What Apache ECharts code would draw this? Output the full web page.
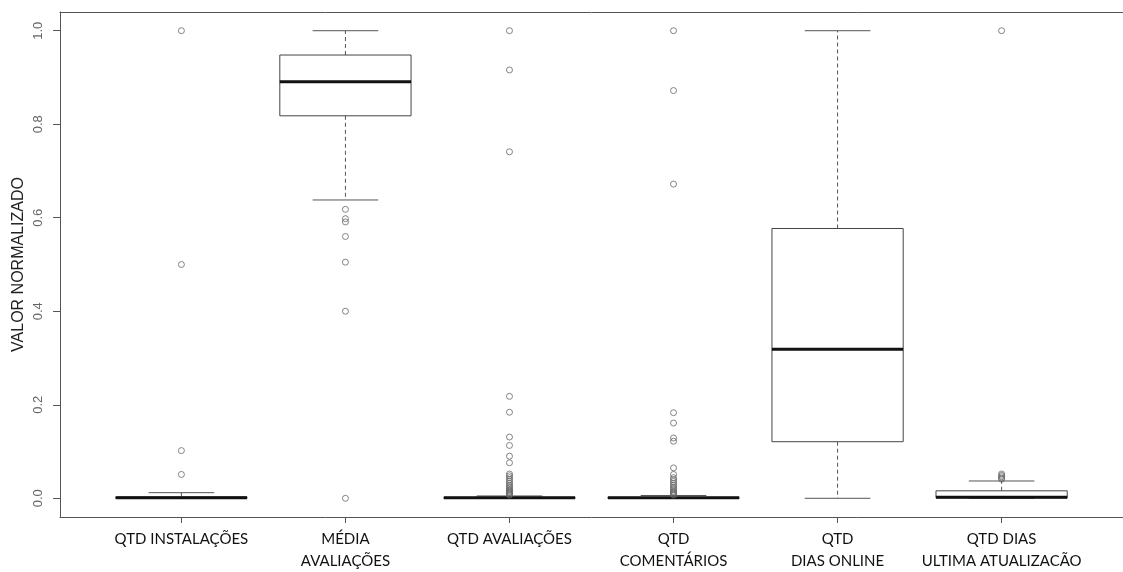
<!DOCTYPE html>
<html>
<head>
<meta charset="utf-8">
<script src="https://cdn.jsdelivr.net/npm/echarts@6/dist/echarts.min.js"></script>
<style>html,body{margin:0;padding:0;background:#fff;}#c{width:1123px;height:572px;}</style>
</head>
<body>
<div id="c"></div>
<script>
// Categories (x positions 1..6)
var categories = ['QTD INSTALAÇÕES', 'MÉDIA\nAVALIAÇÕES', 'QTD AVALIAÇÕES', 'QTD\nCOMENTÁRIOS', 'QTD\nDIAS ONLINE', 'QTD DIAS\nULTIMA ATUALIZACÃO'];
// Box statistics: [low whisker, Q1, median, Q3, high whisker]
var boxInstalacoes = [0, 0, 0.001, 0.003, 0.012];
var boxMedia       = [0.638, 0.818, 0.891, 0.948, 1.0];
var boxAvaliacoes  = [0, 0, 0.001, 0.002, 0.005];
var boxComentarios = [0, 0, 0.001, 0.002, 0.006];
var boxDiasOnline  = [0, 0.121, 0.319, 0.577, 1.0];
var boxUltima      = [0, 0.001, 0.002, 0.016, 0.037];
// Outliers
var outInstalacoes = [1.0, 0.5, 0.102, 0.051];
var outMedia       = [0.618, 0.598, 0.591, 0.560, 0.505, 0.40, 0.0];
var outAvaliacoes  = [1.0, 0.916, 0.741, 0.218, 0.184, 0.131, 0.113, 0.090, 0.076, 0.052, 0.048, 0.044, 0.040, 0.036, 0.032, 0.028, 0.025, 0.022, 0.019, 0.017, 0.015, 0.013, 0.011, 0.009, 0.007];
var outComentarios = [1.0, 0.872, 0.672, 0.183, 0.161, 0.129, 0.122, 0.065, 0.051, 0.044, 0.040, 0.036, 0.032, 0.028, 0.024, 0.021, 0.018, 0.015, 0.013, 0.011, 0.009, 0.007];
var outDiasOnline  = [];
var outUltima      = [1.0, 0.052, 0.049, 0.046, 0.043, 0.041];
// Tick labels
var yTicks = [0, 0.2, 0.4, 0.6, 0.8, 1.0];
var xTicks = [1, 2, 3, 4, 5, 6];
var yTitle = 'VALOR NORMALIZADO';

var boxes = [boxInstalacoes, boxMedia, boxAvaliacoes, boxComentarios, boxDiasOnline, boxUltima];
var outs = [outInstalacoes, outMedia, outAvaliacoes, outComentarios, outDiasOnline, outUltima];

var boxData = boxes.map(function (b, i) { return [i + 1].concat(b); });
var outData = [];
outs.forEach(function (arr, i) { arr.forEach(function (v) { outData.push([i + 1, v]); }); });

var BOXW = 0.4, CAPW = 0.2;

function renderBox(params, api) {
  var x = api.value(0), lo = api.value(1), q1 = api.value(2), md = api.value(3), q3 = api.value(4), hi = api.value(5);
  var p = function (a, b) { return api.coord([a, b]); };
  var tl = p(x - BOXW, q3), br = p(x + BOXW, q1);
  var dash = { stroke: '#555', lineWidth: 1, lineDash: [4, 3] };
  var solid = { stroke: '#555', lineWidth: 1 };
  var c = [];
  c.push({ type: 'line', shape: { x1: p(x, q3)[0], y1: p(x, q3)[1], x2: p(x, hi)[0], y2: p(x, hi)[1] }, style: dash });
  c.push({ type: 'line', shape: { x1: p(x, q1)[0], y1: p(x, q1)[1], x2: p(x, lo)[0], y2: p(x, lo)[1] }, style: dash });
  c.push({ type: 'line', shape: { x1: p(x - CAPW, hi)[0], y1: p(x - CAPW, hi)[1], x2: p(x + CAPW, hi)[0], y2: p(x + CAPW, hi)[1] }, style: solid });
  c.push({ type: 'line', shape: { x1: p(x - CAPW, lo)[0], y1: p(x - CAPW, lo)[1], x2: p(x + CAPW, lo)[0], y2: p(x + CAPW, lo)[1] }, style: solid });
  c.push({ type: 'rect', shape: { x: tl[0], y: tl[1], width: br[0] - tl[0], height: br[1] - tl[1] }, style: { fill: '#fff', stroke: '#444', lineWidth: 1 } });
  c.push({ type: 'line', shape: { x1: p(x - BOXW, md)[0], y1: p(x - BOXW, md)[1], x2: p(x + BOXW, md)[0], y2: p(x + BOXW, md)[1] }, style: { stroke: '#111', lineWidth: 3 } });
  return { type: 'group', children: c };
}

var chart = echarts.init(document.getElementById('c'), null, { renderer: 'canvas' });
chart.setOption({
  animation: false,
  backgroundColor: '#fff',
  grid: { left: 60, top: 12, width: 1072, height: 506, containLabel: false },
  xAxis: [{
    type: 'value', min: 0.26, max: 6.74, position: 'bottom',
    axisLine: { show: true, onZero: false, lineStyle: { color: '#555', width: 1 } },
    axisTick: { show: true, length: 6, customValues: xTicks, lineStyle: { color: '#555' } },
    axisLabel: { show: true, customValues: xTicks, margin: 11, fontFamily: 'Lato', fontSize: 15, lineHeight: 22, color: '#111',
      formatter: function (v) { return categories[Math.round(v) - 1] || ''; } },
    splitLine: { show: false }
  }, {
    type: 'value', min: 0.26, max: 6.74, position: 'top',
    axisLine: { show: true, onZero: false, lineStyle: { color: '#555', width: 1 } },
    axisTick: { show: false }, axisLabel: { show: false }, splitLine: { show: false }
  }],
  yAxis: {
    type: 'value', min: -0.04, max: 1.04,
    name: yTitle, nameLocation: 'middle', nameGap: 33, nameRotate: 90, nameMoveOverlap: false,
    nameTextStyle: { fontFamily: 'Liberation Sans', fontSize: 16, color: '#222' },
    axisLine: { show: true, onZero: false, lineStyle: { color: '#555', width: 1 } },
    axisTick: { show: true, length: 7, customValues: yTicks, lineStyle: { color: '#555' } },
    axisLabel: { show: true, customValues: yTicks, rotate: 90, margin: 15, fontFamily: 'Liberation Sans', fontSize: 13, color: '#666',
      formatter: function (v) { return v.toFixed(1); } },
    splitLine: { show: false }
  },
  series: [{
    type: 'custom', renderItem: renderBox, data: boxData, encode: { x: 0, y: [1, 2, 3, 4, 5] }, z: 2
  }, {
    type: 'scatter', data: outData, symbol: 'circle', symbolSize: 6,
    itemStyle: { color: 'rgba(255,255,255,0)', borderColor: '#666', borderWidth: 1 }, z: 3
  }]
});
</script>
</body>
</html>
